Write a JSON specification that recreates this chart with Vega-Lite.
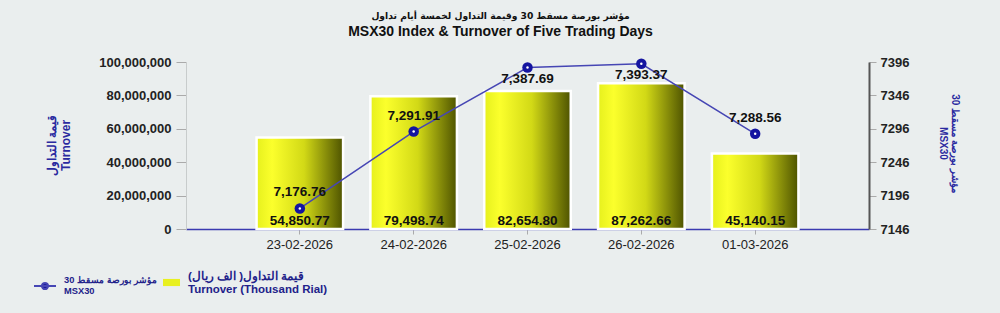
{
  "$schema": "https://vega.github.io/schema/vega-lite/v6.json",
  "width": 683,
  "height": 167,
  "autosize": {"type": "none"},
  "padding": {"left": 186, "top": 62, "right": 131, "bottom": 84},
  "background": "#eaeeee",
  "config": {
    "view": {"stroke": null},
    "font": "Liberation Sans"
  },
  "title": {
    "text": "مؤشر بورصة مسقط 30 وقيمة التداول لخمسة أيام تداول",
    "subtitle": "MSX30 Index & Turnover of Five Trading Days",
    "font": "DejaVu Sans",
    "fontSize": 9.2,
    "fontWeight": "bold",
    "color": "#111111",
    "subtitleFont": "Liberation Sans",
    "subtitleFontSize": 14,
    "subtitleFontWeight": "bold",
    "subtitleColor": "#111111",
    "subtitlePadding": 4,
    "anchor": "middle",
    "frame": "group",
    "dx": -27,
    "offset": 17
  },
  "data": {
    "values": [
      {"date": "23-02-2026", "turnover_k": 54850.77, "index": 7176.76},
      {"date": "24-02-2026", "turnover_k": 79498.74, "index": 7291.91},
      {"date": "25-02-2026", "turnover_k": 82654.80, "index": 7387.69},
      {"date": "26-02-2026", "turnover_k": 87262.66, "index": 7393.37},
      {"date": "01-03-2026", "turnover_k": 45140.15, "index": 7288.56}
    ]
  },
  "encoding": {
    "x": {
      "field": "date",
      "type": "nominal",
      "sort": null,
      "scale": {"paddingInner": 0.24, "paddingOuter": 0.62},
      "axis": {
        "title": null,
        "labelAngle": 0,
        "labelFontSize": 13,
        "labelColor": "#222222",
        "labelPadding": 4,
        "tickSize": 5,
        "tickColor": "#aaaaaa",
        "domainColor": "#3a3ab0",
        "domainWidth": 1.5,
        "grid": false
      }
    }
  },
  "layer": [
    {
      "encoding": {
        "y": {
          "field": "turnover_k",
          "type": "quantitative",
          "scale": {"domain": [0, 100000], "nice": false},
          "axis": {
            "orient": "left",
            "values": [0, 20000, 40000, 60000, 80000, 100000],
            "labelExpr": "format(datum.value * 1000, ',')",
            "labelFontSize": 13,
            "labelFontWeight": "bold",
            "labelColor": "#222222",
            "labelPadding": 5,
            "tickSize": 10,
            "tickColor": "#aaaaaa",
            "domainColor": "#c8cccc",
            "domainWidth": 1,
            "grid": false,
            "title": ["قيمة التداول", "Turnover"],
            "titleFont": "Liberation Sans",
            "titleFontSize": 12,
            "titleFontWeight": "bold",
            "titleColor": "#2a2aa0",
            "titleAngle": -90,
            "titleAlign": "center",
            "titleBaseline": "line-bottom",
            "titleX": -127,
            "titleY": 83
          }
        }
      },
      "layer": [
        {
          "mark": {
            "type": "bar",
            "stroke": "#ffffff",
            "strokeWidth": 2.5,
            "fill": {
              "gradient": "linear",
              "x1": 0, "y1": 0, "x2": 1, "y2": 0,
              "stops": [
                {"offset": 0, "color": "#e6f01e"},
                {"offset": 0.18, "color": "#fbff2c"},
                {"offset": 0.55, "color": "#d2d916"},
                {"offset": 1, "color": "#4e5300"}
              ]
            }
          }
        },
        {
          "mark": {"type": "bar", "opacity": 0},
          "encoding": {
            "fill": {
              "datum": "Turnover",
              "scale": {"range": ["#e8f020"]},
              "legend": {
                "orient": "none",
                "legendX": -23,
                "legendY": 212,
                "title": null,
                "padding": 0,
                "symbolType": "M-1,-0.42H1V0.42H-1Z",
                "symbolSize": 289,
                "symbolOpacity": 1,
                "symbolStrokeWidth": 0,
                "labelExpr": "['قيمة التداول( الف ريال)', 'Turnover (Thousand Rial)']",
                "labelFont": "Liberation Sans",
                "labelFontSize": 11.5,
                "labelFontWeight": "bold",
                "labelColor": "#22228a",
                "labelBaseline": "line-bottom",
                "labelOffset": 8
              }
            }
          }
        },
        {
          "mark": {
            "type": "text",
            "baseline": "bottom",
            "dy": -1,
            "fontSize": 13.5,
            "fontWeight": "bold",
            "color": "#111111"
          },
          "encoding": {
            "y": {"datum": 0},
            "text": {"field": "turnover_k", "type": "quantitative", "format": ",.2f"}
          }
        }
      ]
    },
    {
      "encoding": {
        "y": {
          "field": "index",
          "type": "quantitative",
          "scale": {"domain": [7146, 7396], "nice": false, "zero": false},
          "axis": {
            "orient": "right",
            "values": [7146, 7196, 7246, 7296, 7346, 7396],
            "format": "d",
            "labelFontSize": 13,
            "labelFontWeight": "bold",
            "labelColor": "#222222",
            "labelPadding": 4,
            "tickSize": 7,
            "tickColor": "#aaaaaa",
            "domainColor": "#555555",
            "domainWidth": 2,
            "grid": false,
            "title": ["مؤشر بورصة مسقط 30", "MSX30"],
            "titleFont": "Liberation Sans",
            "titleFontSize": 10,
            "titleFontWeight": "bold",
            "titleColor": "#2a2aa0",
            "titleAngle": 90,
            "titleAlign": "center",
            "titleBaseline": "line-bottom",
            "titleX": 79,
            "titleY": 81
          }
        }
      },
      "layer": [
        {
          "mark": {"type": "line", "strokeWidth": 1.5},
          "encoding": {
            "stroke": {
              "datum": "MSX30",
              "scale": {"range": ["#4646b4"]},
              "legend": {
                "orient": "none",
                "legendX": -153,
                "legendY": 212,
                "title": null,
                "padding": 0,
                "symbolType": "M-1,0H1M-0.28,0A0.28,0.28 0 1,0 0.28,0A0.28,0.28 0 1,0 -0.28,0Z",
                "symbolSize": 484,
                "symbolStrokeColor": "#1a1a9a",
                "symbolFillColor": "#1a1a9a",
                "symbolStrokeWidth": 2,
                "labelExpr": "['مؤشر بورصة مسقط 30', 'MSX30']",
                "labelFont": "Liberation Sans",
                "labelFontSize": 9.3,
                "labelFontWeight": "bold",
                "labelColor": "#22228a",
                "labelBaseline": "line-bottom",
                "labelOffset": 7
              }
            }
          }
        },
        {
          "mark": {"type": "point", "filled": true, "size": 110, "color": "#1414a0", "opacity": 1}
        },
        {
          "mark": {"type": "point", "filled": true, "size": 6, "color": "#ffffff", "opacity": 1}
        },
        {
          "transform": [{"filter": "datum.index < 7350"}],
          "mark": {
            "type": "text",
            "baseline": "middle",
            "dy": -16,
            "fontSize": 13.5,
            "fontWeight": "bold",
            "color": "#111111"
          },
          "encoding": {
            "text": {"field": "index", "type": "quantitative", "format": ",.2f"}
          }
        },
        {
          "transform": [{"filter": "datum.index >= 7350"}],
          "mark": {
            "type": "text",
            "baseline": "middle",
            "dy": 11,
            "fontSize": 13.5,
            "fontWeight": "bold",
            "color": "#111111"
          },
          "encoding": {
            "text": {"field": "index", "type": "quantitative", "format": ",.2f"}
          }
        }
      ]
    }
  ],
  "resolve": {"scale": {"y": "independent"}}
}
